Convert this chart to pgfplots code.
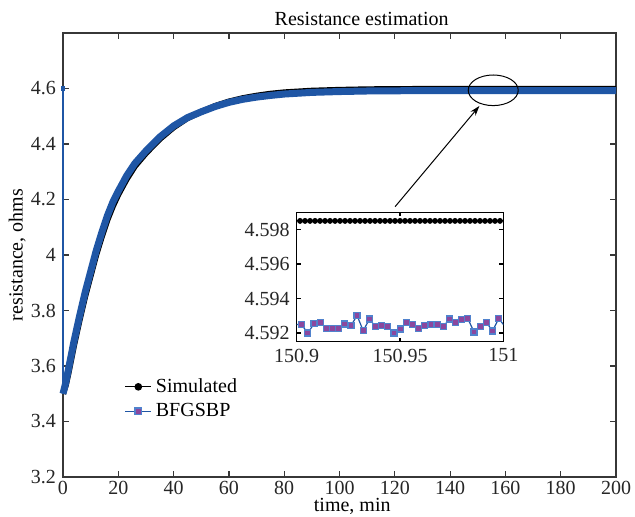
\documentclass[border=0pt]{standalone}
\usepackage{fontspec}
\setmainfont{Liberation Serif}
\usepackage{pgfplots}
\pgfplotsset{compat=1.18}
\usetikzlibrary{arrows.meta}

\definecolor{bfgsblue}{RGB}{31,86,165}
\definecolor{sqfill}{RGB}{139,71,158}
\definecolor{sqedge}{RGB}{80,130,205}
\definecolor{axgray}{RGB}{55,55,55}

\begin{document}
\begin{tikzpicture}
\useasboundingbox (0,0) rectangle (317.5pt,258.5pt);
% main axis
\begin{axis}[
  at={(31.5pt,20pt)}, anchor=south west,
  width=276.5pt, height=222pt, scale only axis,
  xmin=0, xmax=200, ymin=3.2, ymax=4.8,
  clip=false,
  xtick={0,20,...,200},
  ytick={3.2,3.4,3.6,3.8,4,4.2,4.4,4.6},
  tick align=inside, major tick length=3pt,
  axis line style={axgray, line width=0.6pt},
  every tick/.style={axgray, line width=0.6pt},
  /pgf/number format/assume math mode=true,
  tick label style={font=\normalsize, text=black!85},
  xticklabel style={yshift=1.5pt},
  title={Resistance estimation},
  title style={at={(axis description cs:0.54,1)}, anchor=base, yshift=-2.5pt, inner sep=0pt},
  xlabel={time, min},
  xlabel style={at={(axis description cs:0.523,-0.066)}, anchor=center, inner sep=0pt},
  ylabel={resistance, ohms},
  ylabel style={at={(axis description cs:-0.083,0.5)}, anchor=center, inner sep=0pt},
  legend style={draw=none, fill=none, at={(axis description cs:0.10,0.241)}, anchor=north west, font=\normalsize},
  legend cell align=left,
  legend image code/.code={\draw[mark repeat=2,mark phase=2] plot coordinates {(0pt,0pt) (6.5pt,0pt) (13pt,0pt)};},
]
\addlegendimage{black, line width=0.6pt, mark=*, mark size=1.6pt}
\addlegendentry{Simulated}
\addlegendimage{bfgsblue, line width=0.6pt, mark=square*, mark size=1.7pt, mark options={fill=sqfill, draw=sqedge}}
\addlegendentry{BFGSBP}

% Simulated
\addplot[black, line width=3pt, forget plot, line join=round] coordinates {
(0,3.50) (1,3.53) (2,3.575) (3,3.625) (4,3.675) (6,3.765) (8,3.85) (10,3.925)
(12,4.0) (14,4.065) (16,4.125) (18,4.175) (20,4.218) (23,4.273) (26,4.32)
(30,4.367) (35,4.418) (40,4.46) (45,4.493) (50,4.516) (55,4.537) (60,4.553)
(65,4.565) (70,4.574) (75,4.581) (80,4.586) (90,4.592) (100,4.595) (110,4.597)
(120,4.598) (140,4.5985) (200,4.5985)};
% BFGSBP
\addplot[bfgsblue, line width=3.5pt, forget plot, line join=round] coordinates {
(0,3.50) (1,3.54) (2,3.59) (3,3.64) (4,3.69) (6,3.78) (8,3.865) (10,3.94)
(12,4.015) (14,4.08) (16,4.14) (18,4.19) (20,4.23) (23,4.285) (26,4.33)
(30,4.375) (35,4.425) (40,4.465) (45,4.495) (50,4.516) (55,4.535) (60,4.550)
(65,4.561) (70,4.569) (75,4.575) (80,4.580) (90,4.586) (100,4.589) (110,4.591)
(120,4.5918) (140,4.5923) (160,4.5925) (200,4.5925)};
\addplot[bfgsblue, line width=0.8pt, forget plot] coordinates {(0,4.6) (0,3.5)};
\addplot[bfgsblue, only marks, mark=square*, mark size=0.9pt, forget plot] coordinates {(0,4.6)};

\draw[black, line width=0.5pt] (axis cs:155.6,4.5935) ellipse [x radius=12.5pt, y radius=7.65pt];
\draw[black, line width=0.5pt, -{Stealth[length=5pt,width=3.2pt]}] (axis cs:120.1,4.174) -- (axis cs:150.6,4.537);
\end{axis}

% inset, x in units of 0.001 min from 150.9
\begin{axis}[
  at={(148.35pt,87.65pt)}, anchor=south west,
  width=103.3pt, height=64.7pt, scale only axis,
  xmin=0, xmax=100, ymin=4.5915, ymax=4.599,
  xtick={0,50,100}, xticklabels={150.9,150.95,151},
  ytick={4.592,4.594,4.596,4.598}, yticklabels={4.592,4.594,4.596,4.598},
  axis background/.style={fill=white},
  tick align=inside, major tick length=2pt,
  axis line style={black, line width=0.6pt},
  every tick/.style={black, line width=0.6pt},
  /pgf/number format/assume math mode=true,
  tick label style={font=\normalsize, text=black!85},
]
\addplot[black, line width=0.5pt] coordinates {(-1,4.5985) (101,4.5985)};
\addplot[black, only marks, mark=*, mark size=1.25pt] coordinates {
(1.6,4.5985) (4.02,4.5985) (6.44,4.5985) (8.86,4.5985) (11.28,4.5985) (13.7,4.5985)
(16.12,4.5985) (18.54,4.5985) (20.96,4.5985) (23.38,4.5985) (25.8,4.5985) (28.22,4.5985)
(30.64,4.5985) (33.06,4.5985) (35.48,4.5985) (37.9,4.5985) (40.32,4.5985) (42.74,4.5985)
(45.16,4.5985) (47.58,4.5985) (50.0,4.5985) (52.42,4.5985) (54.84,4.5985) (57.26,4.5985)
(59.68,4.5985) (62.1,4.5985) (64.52,4.5985) (66.94,4.5985) (69.36,4.5985) (71.78,4.5985)
(74.2,4.5985) (76.62,4.5985) (79.04,4.5985) (81.46,4.5985) (83.88,4.5985) (86.3,4.5985)
(88.72,4.5985) (91.14,4.5985) (93.56,4.5985) (95.98,4.5985) (98.4,4.5985)};
\addplot[bfgsblue, line width=0.6pt] coordinates {
(-0.58,4.5925) (2.4,4.59248) (5.38,4.59200) (8.36,4.59254) (11.34,4.59263) (14.32,4.59227)
(17.3,4.59227) (20.28,4.59227) (23.26,4.59252) (26.24,4.59242) (29.22,4.59302)
(32.2,4.59213) (35.18,4.59281) (38.16,4.59238) (41.14,4.59244) (44.12,4.59238)
(47.1,4.59200) (50.08,4.59223) (53.06,4.59260) (56.04,4.59250) (59.02,4.59227)
(62.0,4.59242) (64.98,4.59250) (67.96,4.59250) (70.94,4.59238) (73.92,4.59281)
(76.9,4.59263) (79.88,4.59277) (82.86,4.59283) (85.84,4.59206) (88.82,4.59237)
(91.8,4.59262) (94.78,4.59212) (97.76,4.59283) (100.74,4.5924)};
\addplot[only marks, mark=square*, mark size=1.5pt, mark options={fill=sqfill, draw=sqedge, line width=0.6pt}] coordinates {
(2.4,4.59248) (5.38,4.59200) (8.36,4.59254) (11.34,4.59263) (14.32,4.59227)
(17.3,4.59227) (20.28,4.59227) (23.26,4.59252) (26.24,4.59242) (29.22,4.59302)
(32.2,4.59213) (35.18,4.59281) (38.16,4.59238) (41.14,4.59244) (44.12,4.59238)
(47.1,4.59200) (50.08,4.59223) (53.06,4.59260) (56.04,4.59250) (59.02,4.59227)
(62.0,4.59242) (64.98,4.59250) (67.96,4.59250) (70.94,4.59238) (73.92,4.59281)
(76.9,4.59263) (79.88,4.59277) (82.86,4.59283) (85.84,4.59206) (88.82,4.59237)
(91.8,4.59262) (94.78,4.59212) (97.76,4.59283)};
\end{axis}
\end{tikzpicture}
\end{document}
